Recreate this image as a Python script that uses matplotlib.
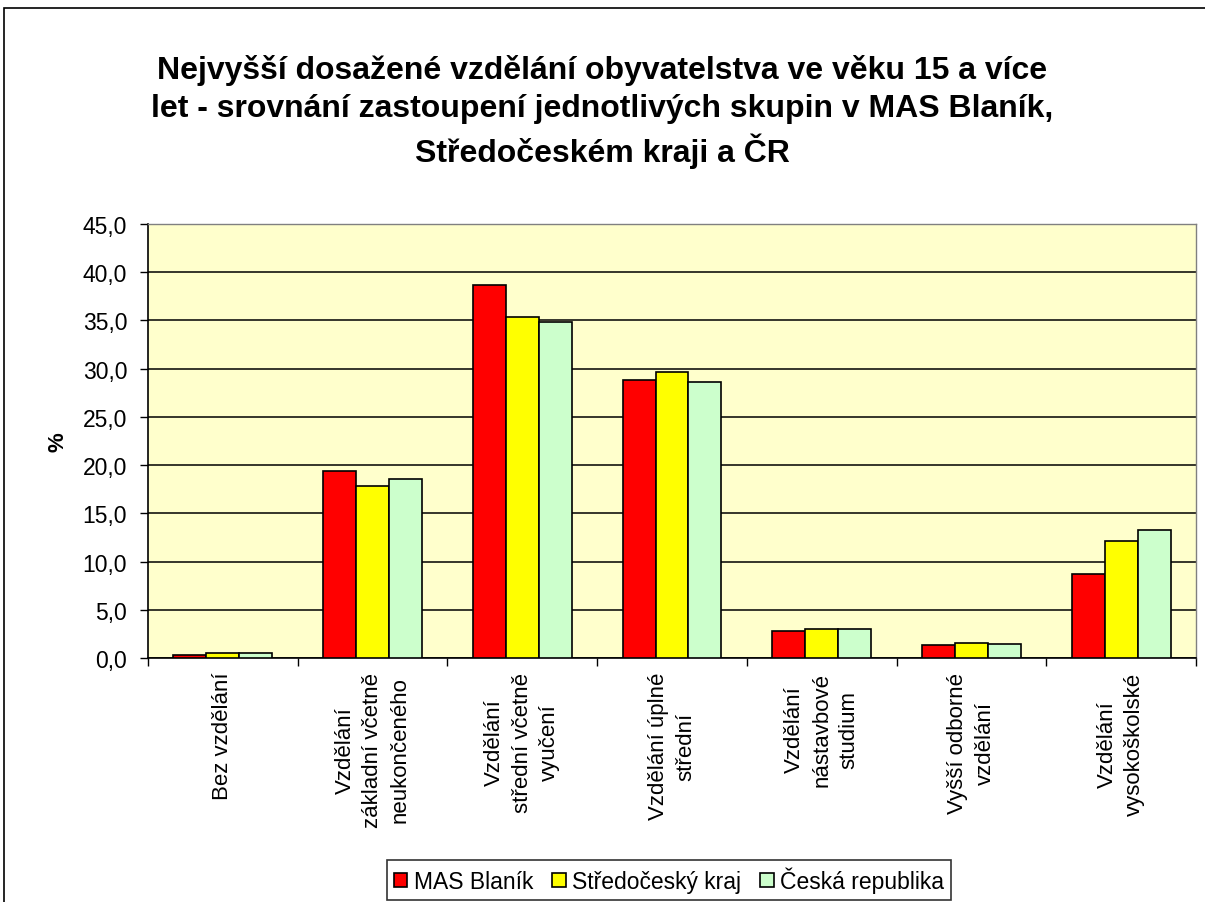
import matplotlib.pyplot as plt
import matplotlib.patches as mpatches
import numpy as np

plt.rcParams['font.family'] = ['Liberation Sans', 'DejaVu Sans']

categories = ['Bez vzdělání',
              'Vzdělání\nzákladní včetně\nneukončeného',
              'Vzdělání\nstřední včetně\nvyučení',
              'Vzdělání úplné\nstřední',
              'Vzdělání\nnástavbové\nstudium',
              'Vyšší odborné\nvzdělání',
              'Vzdělání\nvysokoškolské']
mas_blanik = [0.3, 19.4, 38.7, 28.8, 2.8, 1.3, 8.7]
stredocesky = [0.5, 17.8, 35.4, 29.7, 3.0, 1.6, 12.1]
cr = [0.5, 18.6, 34.8, 28.6, 3.0, 1.45, 13.3]
series_names = ['MAS Blaník', 'Středočeský kraj', 'Česká republika']
colors = ['#FF0000', '#FFFF00', '#CCFFCC']

fig = plt.figure(figsize=(12.05, 9.03), dpi=100)
ax = fig.add_axes([148 / 1205, 1 - 659 / 903, (1196 - 148) / 1205, (659 - 225) / 903])
ax.set_facecolor('#FFFFCC')

x = np.arange(len(categories))
w = 0.22
for i, (vals, name, c) in enumerate(zip([mas_blanik, stredocesky, cr], series_names, colors)):
    ax.bar(x + (i - 1) * w, vals, width=w, color=c, edgecolor='black',
           linewidth=1.2, label=name, zorder=3)

ax.set_ylim(0, 45)
ax.set_xlim(-0.5, len(categories) - 0.5)
yt = np.arange(0, 46, 5)
ax.set_yticks(yt)
ax.set_yticklabels([f'{v:.1f}'.replace('.', ',') for v in yt], fontsize=16.5)
ax.yaxis.grid(True, color='black', linewidth=1.1, zorder=1)
ax.set_axisbelow(True)

ax.set_xticks(x)
ax.set_xticklabels(categories, rotation=90, fontsize=16, ha='center', va='top',
                   multialignment='center', linespacing=1.4)
ax.set_xticks(np.arange(-0.5, len(categories), 1), minor=True)
ax.tick_params(axis='x', which='major', length=0, pad=10)
ax.tick_params(axis='x', which='minor', length=6, width=1, direction='out')
ax.tick_params(axis='y', length=6, width=1, direction='out', pad=9)

for s in ['top', 'right']:
    ax.spines[s].set_color('#808080')
    ax.spines[s].set_linewidth(1)
for s in ['left', 'bottom']:
    ax.spines[s].set_color('black')
    ax.spines[s].set_linewidth(1.2)

ax.set_ylabel('%', fontsize=16, fontweight='bold', labelpad=10)

fig.text(0.5, 1 - 112 / 903,
         'Nejvyšší dosažené vzdělání obyvatelstva ve věku 15 a více\n'
         'let - srovnání zastoupení jednotlivých skupin v MAS Blaník,\n'
         'Středočeském kraji a ČR',
         ha='center', va='center', fontsize=23, fontweight='bold', linespacing=1.35)

leg = ax.legend(loc='center', bbox_to_anchor=(669 / 1205, 1 - 881 / 903), bbox_transform=fig.transFigure,
                ncol=3, fontsize=16.5, frameon=True, fancybox=False, edgecolor='black',
                handlelength=0.6, handleheight=0.6, handletextpad=0.3, columnspacing=0.8,
                borderpad=0.3)
leg.get_frame().set_linewidth(1.2)

border = mpatches.Rectangle((4 / 1205, -0.1), 1.2, 1 - 9 / 903 + 0.1, transform=fig.transFigure,
                            fill=False, edgecolor='black', linewidth=1.2)
fig.patches.append(border)

fig.savefig('out.png', dpi=100, facecolor='white')
